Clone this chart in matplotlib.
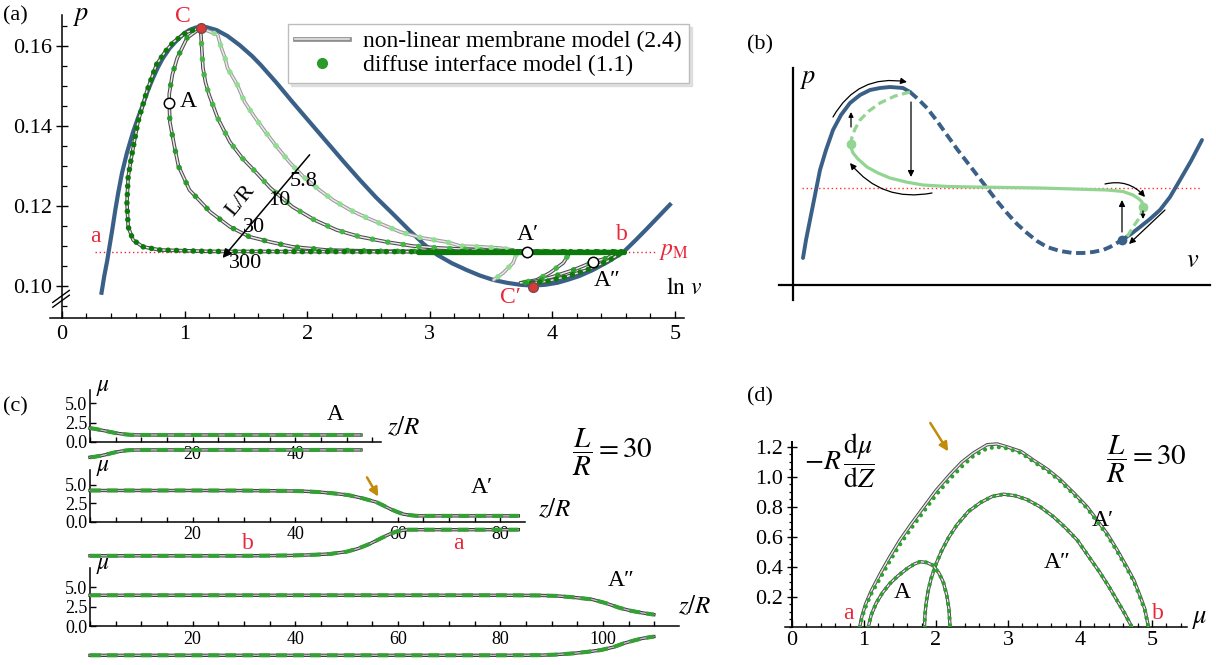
import matplotlib
matplotlib.use('Agg')
import matplotlib.pyplot as plt
from matplotlib.lines import Line2D
from matplotlib.ticker import MultipleLocator, FixedLocator
from matplotlib.legend_handler import HandlerTuple
from matplotlib.patches import FancyArrowPatch

plt.rcParams['font.family'] = ['Liberation Serif', 'DejaVu Serif']
plt.rcParams['mathtext.fontset'] = 'stix'
plt.rcParams['axes.linewidth'] = 1.1

# ---------------- data: panel (a) ----------------
blue_lnv = [0.32, 0.345, 0.37, 0.39, 0.41, 0.435, 0.46, 0.49, 0.53, 0.58, 0.62, 0.66, 0.70, 0.74,
            0.78, 0.82, 0.88, 0.94, 0.99, 1.04, 1.09, 1.13, 1.18, 1.26, 1.35, 1.45, 1.55, 1.62,
            1.75, 1.88, 2.02, 2.16, 2.30, 2.43, 2.56, 2.70, 2.84, 2.95, 3.06, 3.18, 3.30, 3.41,
            3.52, 3.63, 3.74, 3.84, 3.94, 4.04, 4.12, 4.22, 4.33, 4.45, 4.58, 4.68, 4.77, 4.87,
            4.97]
blue_p = [0.0978, 0.1025, 0.1065, 0.1103, 0.1140, 0.1190, 0.1235, 0.1283, 0.1333, 0.1385, 0.1420,
          0.1453, 0.1488, 0.1518, 0.1545, 0.1568, 0.1595, 0.1615, 0.1630, 0.1640, 0.1646, 0.1648,
          0.1647, 0.1640, 0.1625, 0.1602, 0.1575, 0.1553, 0.1508, 0.1460, 0.1410, 0.1360, 0.1310,
          0.1265, 0.1222, 0.1180, 0.1137, 0.1105, 0.1078, 0.1057, 0.1040, 0.1026, 0.1015, 0.1008,
          0.1003, 0.1001, 0.1003, 0.1008, 0.1015, 0.1025, 0.1040, 0.1060, 0.1085, 0.1115, 0.1143,
          0.1175, 0.1207]
p_M = 0.10858
pM_line_x = [0.27, 4.84]

lnv_300 = [1.13, 1.02, 0.91, 0.84, 0.77, 0.69, 0.62, 0.57, 0.54, 0.53, 0.54, 0.58, 0.66, 0.80,
           1.20, 2.00, 3.00, 4.00, 4.58, 4.45, 4.28, 4.12, 3.96, 3.82]
p_300 = [0.1645, 0.1635, 0.1610, 0.1585, 0.1553, 0.1485, 0.1410, 0.1328, 0.1273, 0.1208, 0.1148,
         0.1115, 0.1098, 0.1090, 0.10865, 0.10860, 0.10858, 0.10858, 0.10858, 0.1062, 0.1040,
         0.1024, 0.1012, 0.1007]
flat_300_x = [2.9, 4.58]

lnv_30 = [1.13, 1.02, 0.94, 0.90, 0.875, 0.875, 0.88, 0.92, 0.95, 1.04, 1.21, 1.37, 1.53, 1.70,
          1.88, 2.16, 2.60, 3.20, 3.80, 4.30, 4.53, 4.45, 4.33, 4.17, 4.00, 3.84, 3.74]
p_30 = [0.1645, 0.1620, 0.1570, 0.1528, 0.1480, 0.1458, 0.1410, 0.1345, 0.1300, 0.1240, 0.1185,
        0.1148, 0.1123, 0.1110, 0.1098, 0.1090, 0.1087, 0.10862, 0.10858, 0.10858, 0.10855,
        0.1070, 0.1060, 0.1040, 0.1023, 0.1010, 0.1008]

lnv_10 = [1.13, 1.14, 1.15, 1.17, 1.20, 1.27, 1.37, 1.47, 1.58, 1.70, 1.88, 2.06, 2.24, 2.43,
          2.65, 2.86, 3.08, 3.50, 3.90, 4.14, 4.09, 3.98, 3.87, 3.74]
p_10 = [0.1645, 0.1595, 0.1545, 0.1510, 0.1478, 0.1420, 0.1360, 0.1320, 0.1285, 0.1245, 0.1198,
        0.1165, 0.1140, 0.1123, 0.1110, 0.1100, 0.1095, 0.1089, 0.1087, 0.1083, 0.1058, 0.1033,
        0.1015, 0.1008]

lnv_58 = [1.13, 1.27, 1.30, 1.33, 1.35, 1.43, 1.49, 1.57, 1.66, 1.74, 1.86, 1.97, 2.10, 2.21,
          2.35, 2.49, 2.62, 2.76, 2.94, 3.14, 3.25, 3.41, 3.57, 3.68, 3.71, 3.68, 3.60, 3.52]
p_58 = [0.1645, 0.1628, 0.1595, 0.1570, 0.1545, 0.1503, 0.1460, 0.1423, 0.1385, 0.1353, 0.1308,
        0.1273, 0.1240, 0.1215, 0.1190, 0.1170, 0.1153, 0.1135, 0.1120, 0.1110, 0.1100, 0.1098,
        0.1095, 0.1090, 0.1083, 0.1058, 0.1033, 0.1015]

states_lnv = [0.875, 3.79, 4.33]      # A, A', A''
states_p = [0.1458, 0.10858, 0.1060]
crit_lnv = [1.13, 3.84]               # C, C'
crit_p = [0.1645, 0.0998]
LR_from = (2.02, 0.1328)
LR_to = (1.31, 0.1070)

# ---------------- data: panel (b) (schematic units) ----------------
b_solid1_v = [1.0, 1.3, 1.7, 2.2, 2.7, 3.3, 4.0, 4.8, 5.7, 6.7, 7.7, 8.7, 9.7, 11.0, 11.7]
b_solid1_p = [2.7, 4.5, 6.5, 9.0, 11.5, 13.5, 15.5, 17.0, 18.2, 19.0, 19.5, 19.7, 19.8, 19.7, 19.3]
b_dash_v = [11.7, 12.5, 13.4, 14.4, 15.4, 16.4, 17.4, 18.4, 19.4, 20.4, 21.4, 22.4, 23.4, 24.4,
            25.4, 26.7, 28.0, 29.0, 30.0, 31.0, 31.7, 32.9]
b_dash_p = [19.3, 18.6, 17.7, 16.4, 15.0, 13.6, 12.3, 11.0, 9.7, 8.4, 7.2, 6.1, 5.2, 4.4, 3.8,
            3.4, 3.2, 3.2, 3.3, 3.5, 3.8, 4.5]
b_solid2_v = [32.9, 33.8, 34.7, 35.7, 36.7, 37.7, 38.7, 39.8, 40.9]
b_solid2_p = [4.5, 5.1, 5.8, 6.6, 7.5, 8.8, 10.5, 12.4, 14.5]
g_dash1_v = [11.7, 10.2, 8.7, 7.6, 6.7, 6.2, 5.9, 5.8]
g_dash1_p = [19.3, 18.9, 18.2, 17.4, 16.5, 15.6, 14.8, 14.1]
g_solid_v = [5.8, 5.85, 6.0, 6.5, 7.4, 8.5, 9.7, 11.3, 13.0, 15.5, 18.0, 24.7, 31.4, 33.0, 34.0,
             34.6, 34.9, 35.0]
g_solid_p = [14.1, 13.6, 13.2, 12.6, 11.8, 11.2, 10.7, 10.3, 10.0, 9.85, 9.8, 9.7, 9.5, 9.35, 9.0,
             8.6, 8.3, 7.8]
g_dash2_v = [35.0, 34.7, 34.0, 33.4, 32.9]
g_dash2_p = [7.8, 6.8, 5.8, 4.8, 4.5]
b_pm = 9.7
b_pm_x = [0.9, 40.7]

# ---------------- data: panel (c) ----------------
cA_z = [0, 1, 2, 3, 4, 5, 6, 7, 8, 10, 20, 30, 40, 52.8]
cA_up = [1.78, 1.68, 1.55, 1.42, 1.28, 1.15, 1.05, 0.97, 0.92, 0.90, 0.90, 0.90, 0.90, 0.90]
cA_lo = [-1.98, -1.90, -1.79, -1.65, -1.48, -1.32, -1.20, -1.10, -1.05, -1.03, -1.03, -1.03,
         -1.03, -1.03]
cA1_zup = [0, 10, 20, 30, 38, 42, 45, 48, 50.4, 53, 55.8, 57.2, 58.5, 60, 61.1, 62.5, 63.8, 70, 83.5]
cA1_up = [4.23, 4.23, 4.23, 4.22, 4.18, 4.12, 4.00, 3.80, 3.60, 3.20, 2.66, 2.20, 1.73, 1.30,
          1.03, 0.88, 0.80, 0.80, 0.80]
cA1_zlo = [0, 10, 20, 30, 40, 44, 46.8, 50, 52.2, 54.5, 56.7, 58.3, 59.8, 61, 62, 70, 83.5]
cA1_lo = [-4.60, -4.60, -4.60, -4.60, -4.55, -4.45, -4.35, -4.05, -3.64, -3.00, -2.24, -1.70,
          -1.31, -1.15, -1.07, -1.07, -1.07]
cA2_zup = [0, 20, 40, 60, 80, 88, 91, 94, 97.8, 100.5, 103.2, 105.5, 107.7, 109.9]
cA2_up = [4.0, 4.0, 4.0, 4.0, 4.0, 3.98, 3.92, 3.75, 3.48, 3.00, 2.39, 2.00, 1.74, 1.52]
cA2_zlo = [0, 20, 40, 60, 80, 88, 91, 94.2, 97, 99.6, 102, 104, 106, 107.7, 109.9]
cA2_lo = [-3.7, -3.7, -3.7, -3.7, -3.7, -3.68, -3.6, -3.45, -3.25, -3.02, -2.65, -2.17, -1.8,
          -1.52, -1.3]

# ---------------- data: panel (d) ----------------
dA1_mu = [0.94, 0.97, 1.02, 1.10, 1.23, 1.36, 1.50, 1.66, 1.83, 2.00, 2.20, 2.36, 2.52, 2.71,
          2.85, 2.99, 3.18, 3.36, 3.55, 3.73, 3.92, 4.10, 4.24, 4.38, 4.52, 4.65, 4.75, 4.84,
          4.90, 4.95]
dA1_line = [0.00, 0.07, 0.15, 0.24, 0.36, 0.47, 0.58, 0.69, 0.80, 0.91, 1.02, 1.10, 1.16, 1.215,
            1.22, 1.20, 1.17, 1.11, 1.05, 0.98, 0.89, 0.80, 0.71, 0.62, 0.51, 0.40, 0.31, 0.20,
            0.12, 0.00]
dA1_dots = [0.00, 0.06, 0.13, 0.22, 0.33, 0.44, 0.55, 0.66, 0.77, 0.88, 0.99, 1.07, 1.14, 1.19,
            1.20, 1.19, 1.16, 1.10, 1.04, 0.97, 0.88, 0.79, 0.70, 0.61, 0.50, 0.39, 0.30, 0.19,
            0.11, 0.00]
dA2_mu = [1.84, 1.845, 1.86, 1.89, 1.93, 2.00, 2.08, 2.18, 2.29, 2.45, 2.62, 2.78, 2.94, 3.10,
          3.26, 3.45, 3.63, 3.80, 3.96, 4.12, 4.28, 4.40, 4.51, 4.62, 4.72]
dA2_y = [0.00, 0.07, 0.15, 0.24, 0.32, 0.42, 0.51, 0.60, 0.68, 0.77, 0.83, 0.87, 0.885, 0.875,
         0.85, 0.80, 0.735, 0.66, 0.58, 0.47, 0.36, 0.27, 0.18, 0.09, 0.00]
dA_mu = [1.06, 1.10, 1.17, 1.26, 1.36, 1.47, 1.60, 1.70, 1.78, 1.87, 1.96, 2.04, 2.10, 2.15,
         2.18, 2.195]
dA_y = [0.00, 0.08, 0.16, 0.23, 0.29, 0.34, 0.39, 0.42, 0.435, 0.43, 0.41, 0.36, 0.30, 0.21,
        0.12, 0.00]

BLUE = '#3b6088'
RED = '#e8283a'
GOLD = '#c28c0a'
G300, G30, G10, G58 = '#0b7a0b', '#2a9a2a', '#45b545', '#90df90'
LG = '#92d492'

W, H = 1216, 665
fig = plt.figure(figsize=(W / 100, H / 100), dpi=100)


def px_axes(x0, y0, x1, y1):
    return fig.add_axes([x0 / W, 1 - y1 / H, (x1 - x0) / W, (y1 - y0) / H])


def membrane(ax, x, y, outer='#4a4a4a', z=3, lw=2.6):
    ax.plot(x, y, color=outer, lw=lw, zorder=z, solid_capstyle='round', solid_joinstyle='round')
    ax.plot(x, y, color='#e8e8e8', lw=lw * 0.42, zorder=z, solid_joinstyle='round')


def dots(ax, x, y, color, lw=4.0, gap=3.0, z=4):
    ax.plot(x, y, color=color, lw=lw, ls=(0, (0.01, gap)), dash_capstyle='round', zorder=z)


# ======================= panel (a) =======================
axa = px_axes(49.7, 15, 683.6, 318)
axa.set_xlim(-0.1, 5.07)
axa.set_ylim(0.092, 0.16775)
for s in ['top', 'right']:
    axa.spines[s].set_visible(False)
axa.spines['left'].set_position(('data', 0))
axa.set_xticks([0, 1, 2, 3, 4, 5])
axa.xaxis.set_minor_locator(MultipleLocator(0.2))
axa.set_yticks([0.10, 0.12, 0.14, 0.16])
axa.set_yticklabels(['0.10', '0.12', '0.14', '0.16'])
axa.yaxis.set_minor_locator(MultipleLocator(0.005))
axa.tick_params(axis='x', which='major', direction='in', length=5, width=1, labelsize=16, pad=5)
axa.tick_params(axis='x', which='minor', direction='in', length=3.5, width=0.9)
axa.tick_params(axis='y', which='major', direction='inout', length=8, width=1, labelsize=16, pad=3)
axa.tick_params(axis='y', which='minor', direction='in', length=3.5, width=0.9)

axa.plot(pM_line_x, [p_M, p_M], color=RED, lw=1.0, ls=(0, (1, 2)), zorder=1)
axa.plot(blue_lnv, blue_p, color=BLUE, lw=3.0, zorder=2, solid_capstyle='butt')

membrane(axa, lnv_58, p_58, outer='#9a9a9a')
membrane(axa, lnv_10, p_10)
membrane(axa, lnv_30, p_30)
membrane(axa, lnv_300, p_300)
dots(axa, lnv_58, p_58, G58, gap=2.6)
dots(axa, lnv_10, p_10, G10, gap=2.8)
dots(axa, lnv_30, p_30, G30, gap=3.0)
dots(axa, lnv_300, p_300, G300, gap=1.5)
axa.plot(flat_300_x, [p_M, p_M], color=G300, lw=3.8, zorder=4, solid_capstyle='round')

axa.plot(crit_lnv, crit_p, ls='none', marker='o', ms=7, mfc='#d83a3a', mec='#7a4a4a', mew=1,
         zorder=6)
axa.plot(states_lnv, states_p, ls='none', marker='o', ms=7.5, mfc='white', mec='black', mew=1.1,
         zorder=7)

axa.annotate('', xy=LR_to, xytext=LR_from,
             arrowprops=dict(arrowstyle='-|>', lw=1.1, color='black', mutation_scale=13,
                             shrinkA=0, shrinkB=0), zorder=8)
tk = dict(fontsize=16, ha='center', va='center', zorder=9)
axa.text(1.97, 0.1262, '5.8', **tk)
axa.text(1.77, 0.1213, '10', **tk)
axa.text(1.57, 0.1146, '30', **tk)
axa.text(1.50, 0.1056, '300', **tk)
axa.text(1.46, 0.1212, 'L/R', fontsize=16, rotation=51, ha='center', va='center', zorder=9)

axa.text(0.99, 0.1675, 'C', color=RED, fontsize=17, ha='center', va='center')
axa.text(1.03, 0.1462, 'A', fontsize=17, ha='center', va='center')
axa.text(0.27, 0.1123, 'a', color=RED, fontsize=17, ha='center', va='center')
axa.text(4.57, 0.1128, 'b', color=RED, fontsize=17, ha='center', va='center')
axa.text(3.80, 0.1128, 'A′', fontsize=17, ha='center', va='center')
axa.text(4.45, 0.1013, 'A″', fontsize=17, ha='center', va='center')
axa.text(3.66, 0.0972, 'C′', color=RED, fontsize=17, ha='center', va='center')
axa.text(4.87, 0.1086, r'$p_{\mathrm{M}}$', color=RED, fontsize=17, ha='left', va='center')
axa.text(5.07, 0.0993, r'$\ln\,v$', fontsize=17, ha='center', va='center')
axa.text(0.16, 0.1672, r'$p$', fontsize=19, ha='center', va='center')
fig.text(15 / W, 1 - 16 / H, '(a)', fontsize=16, ha='center', va='center')

# axis break marks
for dy in (0.0, 0.0012):
    axa.plot([-0.075, 0.06], [0.0947 + dy, 0.0977 + dy], color='black', lw=1.0, clip_on=False,
             zorder=9)

h1 = (Line2D([], [], color='#8e8e8e', lw=3.4), Line2D([], [], color='#e4e4e4', lw=1.2))
h2 = Line2D([], [], ls='none', marker='o', color=G30, ms=7)
leg = axa.legend([h1, h2], ['non-linear membrane model (2.4)', 'diffuse interface model (1.1)'],
                 handler_map={tuple: HandlerTuple(ndivide=1, pad=0)}, loc='upper right',
                 bbox_to_anchor=(701 / W, 1 - 12 / H), bbox_transform=fig.transFigure,
                 fontsize=17, frameon=True, fancybox=False,
                 shadow={'color': '#cfcfcf', 'alpha': 0.6},
                 handlelength=2.3, borderpad=0.3, labelspacing=0.1, handletextpad=0.6,
                 framealpha=1)
leg.get_frame().set_edgecolor('#bdbdbd')
leg.get_frame().set_linewidth(1.0)
leg.set_zorder(10)

# ======================= panel (b) =======================
axb = px_axes(779, 68, 1210, 300)
axb.set_xlim(-1.4, 41.7)
axb.set_ylim(-1.5, 21.7)
for s in ['top', 'right']:
    axb.spines[s].set_visible(False)
axb.spines['left'].set_position(('data', 0))
axb.spines['bottom'].set_position(('data', 0))
for s in ['left', 'bottom']:
    axb.spines[s].set_linewidth(1.6)
axb.set_xticks([])
axb.set_yticks([])
axb.patch.set_alpha(0)

axb.plot(b_pm_x, [b_pm, b_pm], color='#ff3030', lw=1.0, ls=(0, (1, 2)), zorder=1)
axb.plot(b_solid1_v, b_solid1_p, color=BLUE, lw=2.8, zorder=2, solid_capstyle='round')
axb.plot(b_dash_v, b_dash_p, color=BLUE, lw=2.8, zorder=2, dashes=(2.4, 1.2))
axb.plot(b_solid2_v, b_solid2_p, color=BLUE, lw=2.8, zorder=2, solid_capstyle='round')
axb.plot(g_dash1_v, g_dash1_p, color=LG, lw=2.3, zorder=3, dashes=(2.6, 1.4))
axb.plot(g_solid_v, g_solid_p, color=LG, lw=2.3, zorder=3, solid_capstyle='round')
axb.plot(g_dash2_v, g_dash2_p, color=LG, lw=2.3, zorder=3, dashes=(2.6, 1.4))
axb.plot([g_solid_v[0], g_solid_v[-1]], [g_solid_p[0], g_solid_p[-1]], ls='none', marker='o',
         ms=6, color=LG, zorder=4)
axb.plot([b_solid2_v[0]], [b_solid2_p[0]], ls='none', marker='o', ms=6, color=BLUE, zorder=4)


def barrow(ax, p0, p1, rad=0.0, ms=9):
    ax.add_patch(FancyArrowPatch(p0, p1, connectionstyle='arc3,rad=%g' % rad, arrowstyle='-|>',
                                 mutation_scale=ms, lw=0.9, color='black', shrinkA=0, shrinkB=0,
                                 zorder=6))


barrow(axb, (4.0, 16.8), (11.4, 20.3), rad=-0.35)
barrow(axb, (13.9, 9.2), (5.7, 12.2), rad=-0.3)
barrow(axb, (5.8, 15.8), (5.8, 17.3), ms=7)
barrow(axb, (11.8, 18.3), (11.8, 10.8))
barrow(axb, (32.9, 5.3), (32.9, 8.5))
barrow(axb, (31.2, 10.1), (35.2, 8.8), rad=-0.3)
barrow(axb, (35.0, 7.4), (35.0, 6.6), ms=6)
barrow(axb, (37.2, 7.5), (33.6, 4.1))
axb.text(1.5, 20.5, r'$p$', fontsize=19, ha='center', va='center')
axb.text(40.0, 2.4, r'$v$', fontsize=19, ha='center', va='center')
fig.text(760 / W, 1 - 45 / H, '(b)', fontsize=16, ha='center', va='center')

# ======================= panel (c) =======================
CG = '#35a035'


def c_axes(box, zmax, ylim, zup, up, zlo, lo, major):
    ax = px_axes(*box)
    ax.set_xlim(0, zmax)
    ax.set_ylim(*ylim)
    for s in ['top', 'right']:
        ax.spines[s].set_visible(False)
    ax.spines['bottom'].set_position(('data', 0))
    ax.spines['left'].set_bounds(0, ylim[1])
    ax.xaxis.set_major_locator(FixedLocator(major))
    ax.xaxis.set_minor_locator(MultipleLocator(5))
    ax.set_yticks([0, 2.5, 5.0])
    ax.set_yticklabels(['0.0', '2.5', '5.0'])
    ax.tick_params(axis='x', which='both', direction='in', length=3.5, width=1, labelsize=13,
                   pad=3)
    ax.tick_params(axis='y', direction='in', length=4, width=1, labelsize=13, pad=2)
    ax.patch.set_alpha(0)
    for zz, mm in ((zup, up), (zlo, lo)):
        ax.plot(zz, mm, color='#333333', lw=2.4, zorder=3, clip_on=False)
        ax.plot(zz, mm, color='#bdbdbd', lw=1.1, zorder=3, clip_on=False)
        ax.plot(zz, mm, color=CG, lw=2.9, zorder=4, dashes=(2.7, 1.5), clip_on=False)
    ax.text(2.5, ylim[1] + 0.3, r'$\mu$', fontsize=17, ha='center', va='center')
    return ax


axc1 = c_axes((90, 390, 381, 459), 56.7, (-2.2, 6.7), cA_z, cA_up, cA_z, cA_lo, [20, 40])
axc1.text(47.8, 3.6, 'A', fontsize=17, ha='center', va='center')
axc1.text(61.2, 1.9, r'$z/R$', fontsize=18, ha='center', va='center')

axc2 = c_axes((90, 470, 525, 558), 84.8, (-4.9, 7.0), cA1_zup, cA1_up, cA1_zlo, cA1_lo,
              [20, 40, 60, 80])
axc2.text(76.4, 4.6, 'A′', fontsize=17, ha='center', va='center')
axc2.text(90.6, 1.6, r'$z/R$', fontsize=18, ha='center', va='center')
axc2.text(30.8, -2.9, 'b', color=RED, fontsize=17, ha='center', va='center')
axc2.text(71.9, -2.9, 'a', color=RED, fontsize=17, ha='center', va='center')
axc2.annotate('', xy=(56.2, 3.4), xytext=(54.0, 6.0),
              arrowprops=dict(arrowstyle='-|>', color=GOLD, lw=1.8, mutation_scale=13,
                              shrinkA=0, shrinkB=0), zorder=8)

axc3 = c_axes((90, 568, 679, 660), 114.8, (-4.3, 7.5), cA2_zup, cA2_up, cA2_zlo, cA2_lo,
              [20, 40, 60, 80, 100])
axc3.text(103.5, 5.9, 'A″', fontsize=17, ha='center', va='center')
axc3.text(117.9, 2.6, r'$z/R$', fontsize=18, ha='center', va='center')

fig.text(612 / W, 1 - 452 / H, r'$\dfrac{L}{R}=30$', fontsize=21, ha='center', va='center')
fig.text(15 / W, 1 - 407 / H, '(c)', fontsize=16, ha='center', va='center')

# ======================= panel (d) =======================
axd = px_axes(784.8, 442, 1186.6, 627)
axd.set_xlim(-0.1, 5.48)
axd.set_ylim(0, 1.233)
for s in ['top', 'right']:
    axd.spines[s].set_visible(False)
axd.spines['left'].set_position(('data', 0))
axd.spines['left'].set_linewidth(1.4)
axd.set_xticks([0, 1, 2, 3, 4, 5])
axd.xaxis.set_minor_locator(MultipleLocator(0.2))
axd.set_yticks([0.2, 0.4, 0.6, 0.8, 1.0, 1.2])
axd.set_yticklabels(['0.2', '0.4', '0.6', '0.8', '1.0', '1.2'])
axd.yaxis.set_minor_locator(MultipleLocator(0.05))
axd.tick_params(axis='x', which='major', direction='in', length=5, width=1, labelsize=16, pad=3)
axd.tick_params(axis='x', which='minor', direction='in', length=3, width=0.9)
axd.tick_params(axis='y', which='major', direction='inout', length=7, width=1, labelsize=16, pad=3)
axd.tick_params(axis='y', which='minor', direction='out', length=2.5, width=0.9)

for mu, yy in ((dA1_mu, dA1_line), (dA2_mu, dA2_y), (dA_mu, dA_y)):
    membrane(axd, mu, yy, lw=2.4)
dots(axd, dA1_mu, dA1_dots, '#2ea02e', lw=3.0, gap=1.7)
dots(axd, dA2_mu, dA2_y, '#2ea02e', lw=3.0, gap=1.7)
dots(axd, dA_mu, dA_y, '#2ea02e', lw=3.0, gap=1.7)

axd.text(0.67, 1.11, r'$-R\,\dfrac{\mathrm{d}\mu}{\mathrm{d}Z}$', fontsize=20, ha='center',
         va='center')
axd.text(4.92, 1.12, r'$\dfrac{L}{R}=30$', fontsize=21, ha='center', va='center')
axd.text(1.53, 0.233, 'A', fontsize=17, ha='center', va='center')
axd.text(4.32, 0.713, 'A′', fontsize=17, ha='center', va='center')
axd.text(3.68, 0.433, 'A″', fontsize=17, ha='center', va='center')
axd.text(0.78, 0.093, 'a', color=RED, fontsize=17, ha='center', va='center')
axd.text(5.08, 0.093, 'b', color=RED, fontsize=17, ha='center', va='center')
axd.text(5.67, 0.047, r'$\mu$', fontsize=19, ha='center', va='center', clip_on=False)
axd.annotate('', xy=(2.17, 1.17), xytext=(1.92, 1.36),
             arrowprops=dict(arrowstyle='-|>', color=GOLD, lw=1.8, mutation_scale=13,
                             shrinkA=0, shrinkB=0), annotation_clip=False)
fig.text(760 / W, 1 - 397 / H, '(d)', fontsize=16, ha='center', va='center')

fig.savefig('out.png', dpi=100)
